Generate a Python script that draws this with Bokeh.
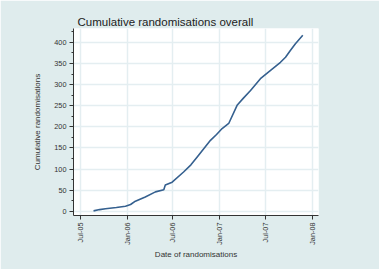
import math
from datetime import datetime
from bokeh.plotting import figure
from bokeh.models import Range1d, FixedTicker, DatetimeTickFormatter, SingleIntervalTicker
from bokeh.embed import file_html
from bokeh.resources import INLINE

# data
dates = ["2005-08-22", "2005-09-15", "2005-10-08", "2005-11-20", "2005-12-26", "2006-01-15",
         "2006-02-03", "2006-03-14", "2006-04-23", "2006-05-26", "2006-06-01", "2006-06-28",
         "2006-08-12", "2006-09-10", "2006-10-04", "2006-11-26", "2006-12-20", "2007-01-11",
         "2007-02-06", "2007-03-11", "2007-04-05", "2007-05-03", "2007-06-11", "2007-07-21",
         "2007-08-29", "2007-09-18", "2007-10-07", "2007-10-27", "2007-11-25"]
counts = [1, 4, 6, 9, 12, 16,
          24, 34, 46, 51, 62, 69,
          93, 110, 128, 168, 182, 196,
          208, 251, 268, 286, 314, 334,
          353, 365, 381, 397, 417]
tick_dates = ["2005-07-01", "2006-01-01", "2006-07-01", "2007-01-01", "2007-07-01", "2008-01-01"]

def ms(s):
    return (datetime.strptime(s, "%Y-%m-%d") - datetime(1970, 1, 1)).total_seconds() * 1000

xs = [datetime.strptime(d, "%Y-%m-%d") for d in dates]

bg = "#dfeced"

p = figure(width=379, height=269, x_axis_type="datetime", output_backend="svg",
           toolbar_location=None,
           x_range=Range1d(datetime(2005, 6, 4), datetime(2008, 1, 26)),
           y_range=Range1d(-10, 433),
           min_border_left=73, min_border_right=61, min_border_top=28, min_border_bottom=54)

p.border_fill_color = bg
p.background_fill_color = "white"
p.outline_line_color = None

p.title.text = "Cumulative randomisations overall"
p.title.text_font = "Liberation Sans"
p.title.text_font_size = "11.5px"
p.title.text_font_style = "normal"
p.title.text_color = "#222222"
p.title.offset = 4
p.title.standoff = 1

p.line(xs, counts, line_color="#35608f", line_width=1.6)

xa = p.xaxis[0]
xa.ticker = FixedTicker(ticks=[ms(t) for t in tick_dates])
fmt = "%b-%y"
xa.formatter = DatetimeTickFormatter(milliseconds=fmt, seconds=fmt, minsec=fmt, minutes=fmt,
                                     hourmin=fmt, hours=fmt, days=fmt, months=fmt, years=fmt)
xa.major_label_orientation = math.pi / 2
xa.axis_label = "Date of randomisations"

ya = p.yaxis[0]
ya.ticker = SingleIntervalTicker(interval=50, num_minor_ticks=2)
ya.axis_label = "Cumulative randomisations"

for ax in (xa, ya):
    ax.axis_line_color = "#333333"
    ax.axis_line_width = 1
    ax.major_tick_line_color = "#333333"
    ax.minor_tick_line_color = "#333333"
    ax.major_tick_out = 4
    ax.major_tick_in = 0
    ax.minor_tick_out = 2
    ax.minor_tick_in = 0
    ax.major_label_text_font = "Liberation Sans"
    ax.major_label_text_font_size = "7.3px"
    ax.major_label_text_color = "#333333"
    ax.axis_label_text_font = "Liberation Sans"
    ax.axis_label_text_font_size = "8px"
    ax.axis_label_text_font_style = "normal"
    ax.axis_label_text_color = "#333333"
    ax.major_label_standoff = 3
xa.axis_label_standoff = 2
ya.axis_label_standoff = 9
xa.minor_tick_line_color = None

p.xgrid.ticker = xa.ticker
p.ygrid.ticker = SingleIntervalTicker(interval=50)
for g in (p.xgrid, p.ygrid):
    g.grid_line_color = "#e4eef1"
    g.grid_line_width = 1.5

open("out.html", "w").write(file_html(p, INLINE))
